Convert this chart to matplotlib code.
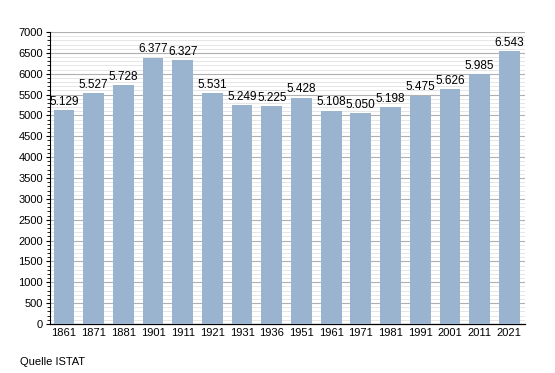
import numpy as np
from matplotlib import pyplot as plt

years = ["1861", "1871", "1881", "1901", "1911", "1921", "1931", "1936",
         "1951", "1961", "1971", "1981", "1991", "2001", "2011", "2021"]
population = [5129, 5527, 5728, 6377, 6327, 5531, 5249, 5225,
              5428, 5108, 5050, 5198, 5475, 5626, 5985, 6543]
labels = ["5.129", "5.527", "5.728", "6.377", "6.327", "5.531", "5.249", "5.225",
          "5.428", "5.108", "5.050", "5.198", "5.475", "5.626", "5.985", "6.543"]

plt.rcParams['font.family'] = ['Liberation Sans', 'DejaVu Sans']

fig = plt.figure(figsize=(5.55, 3.73), dpi=100)
ax = fig.add_axes([50/555, 1 - 324/373, 475/555, 292/373])

x = np.arange(len(years))
ax.bar(x, population, width=0.7, color="#9ab4cf", zorder=3)
for xi, v, lab in zip(x, population, labels):
    ax.text(xi, v + 60, lab, ha="center", va="bottom", fontsize=8.5, zorder=4)

ax.set_ylim(0, 7000)
ax.set_xlim(-0.47, 15.53)
ax.set_yticks(np.arange(0, 7001, 500))
ax.set_yticks(np.arange(0, 7001, 100), minor=True)
ax.set_xticks(x)
ax.set_xticklabels(years)
ax.tick_params(axis="both", labelsize=8, length=3, width=0.8, pad=2)
ax.tick_params(axis="y", which="minor", length=2, width=0.6)
ax.tick_params(axis="x", length=0, pad=3)

ax.grid(axis="y", which="major", color="#b0b0b0", linewidth=0.8, zorder=0)
ax.grid(axis="y", which="minor", color="#e2e2e2", linewidth=0.6, zorder=0)
ax.set_axisbelow(True)

for s in ["top", "right"]:
    ax.spines[s].set_visible(False)
ax.spines["left"].set_linewidth(0.8)
ax.spines["bottom"].set_linewidth(0.9)

fig.text(20/555, 1 - 362/373, "Quelle ISTAT", fontsize=8, va="center", ha="left")

plt.savefig("out.png", dpi=100)
